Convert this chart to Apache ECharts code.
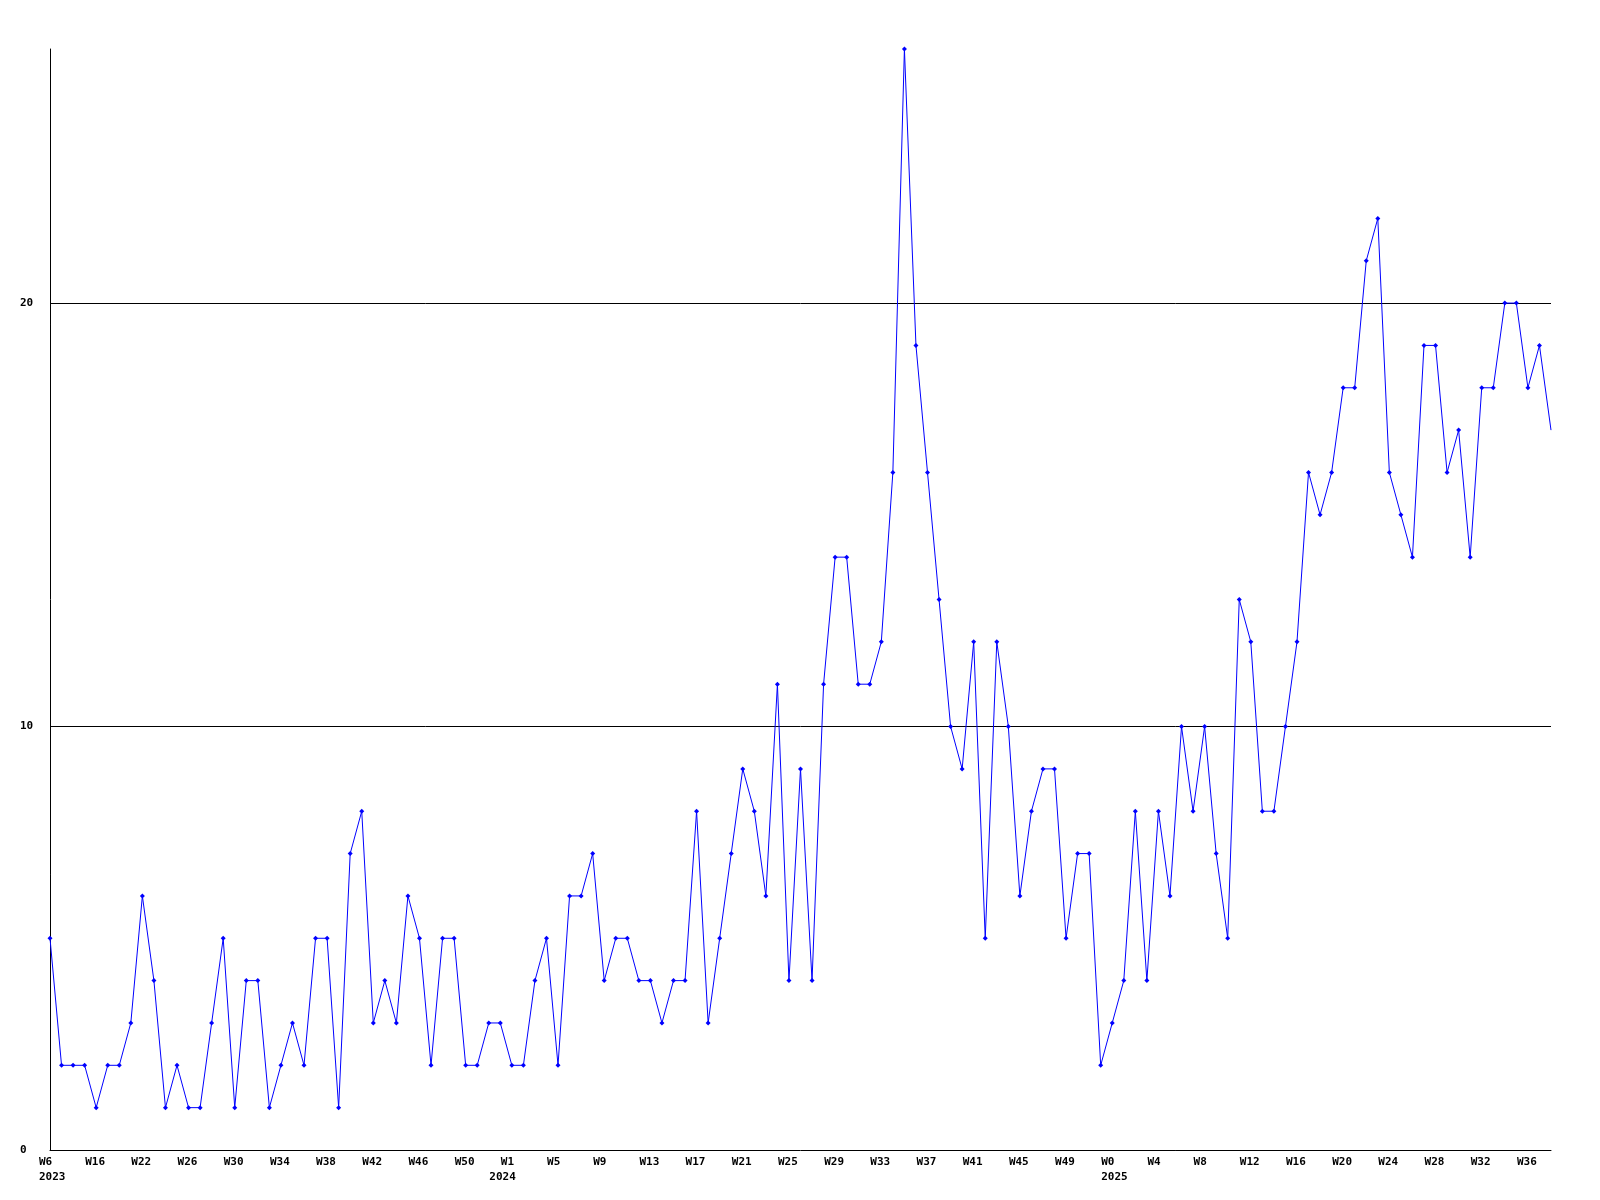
<!DOCTYPE html>
<html>
<head>
<meta charset="utf-8">
<script src="https://cdn.jsdelivr.net/npm/echarts@6/dist/echarts.min.js"></script>
<style>
html,body{margin:0;padding:0;background:#fff;}
#c{width:1600px;height:1200px;}
</style>
</head>
<body>
<div id="c"></div>
<script>
var weeks = [
"2023-W6","2023-W10","2023-W12","2023-W14","2023-W16","2023-W18","2023-W19","2023-W20",
"2023-W22","2023-W23","2023-W24","2023-W25","2023-W26","2023-W27","2023-W28","2023-W29",
"2023-W30","2023-W31","2023-W32","2023-W33","2023-W34","2023-W35","2023-W36","2023-W37",
"2023-W38","2023-W39","2023-W40","2023-W41","2023-W42","2023-W43","2023-W44","2023-W45",
"2023-W46","2023-W47","2023-W48","2023-W49","2023-W50","2023-W51","2023-W52",
"2024-W0","2024-W1","2024-W2","2024-W3","2024-W4","2024-W5","2024-W6","2024-W7","2024-W8",
"2024-W9","2024-W10","2024-W11","2024-W12","2024-W13","2024-W14","2024-W15","2024-W16",
"2024-W17","2024-W18","2024-W19","2024-W20","2024-W21","2024-W22","2024-W23","2024-W24",
"2024-W25","2024-W26","2024-W27","2024-W28","2024-W29","2024-W30","2024-W31","2024-W32",
"2024-W33","2024-W34","2024-W35","2024-W36","2024-W37","2024-W38","2024-W39","2024-W40",
"2024-W41","2024-W42","2024-W43","2024-W44","2024-W45","2024-W46","2024-W47","2024-W48",
"2024-W49","2024-W50","2024-W51","2024-W52",
"2025-W0","2025-W1","2025-W2","2025-W3","2025-W4","2025-W5","2025-W6","2025-W7",
"2025-W8","2025-W9","2025-W10","2025-W11","2025-W12","2025-W13","2025-W14","2025-W15",
"2025-W16","2025-W17","2025-W18","2025-W19","2025-W20","2025-W21","2025-W22","2025-W23",
"2025-W24","2025-W25","2025-W26","2025-W27","2025-W28","2025-W29","2025-W30","2025-W31",
"2025-W32","2025-W33","2025-W34","2025-W35","2025-W36","2025-W37","2025-W38"
];
var counts = [
5,2,2,2,1,2,2,3,6,4,
1,2,1,1,3,5,1,4,4,1,
2,3,2,5,5,1,7,8,3,4,
3,6,5,2,5,5,2,2,3,3,
2,2,4,5,2,6,6,7,4,5,
5,4,4,3,4,4,8,3,5,7,
9,8,6,11,4,9,4,11,14,14,
11,11,12,16,26,19,16,13,10,9,
12,5,12,10,6,8,9,9,5,7,
7,2,3,4,8,4,8,6,10,8,
10,7,5,13,12,8,8,10,12,16,
15,16,18,18,21,22,16,15,14,19,
19,16,17,14,18,18,20,20,18,19,
17
];
var yTicks = [0, 10, 20];
var yMax = 26;

var font = '"DejaVu Sans Mono", "Liberation Mono", monospace';
var chart = echarts.init(document.getElementById('c'), null, {renderer: 'canvas'});

var seriesData = counts.map(function (v, i) {
  if (i === counts.length - 1) return {value: v, symbol: 'none'};
  return v;
});

var labelRich = {
  a: {width: 22, align: 'left', color: '#000', fontFamily: font, fontWeight: 'bold', fontSize: 11}
};

chart.setOption({
  animation: false,
  backgroundColor: '#ffffff',
  grid: {left: 50, right: 49, top: 49, bottom: 50, containLabel: false},
  xAxis: [{
    type: 'category',
    data: weeks,
    boundaryGap: false,
    position: 'bottom',
    axisLine: {show: true, lineStyle: {color: '#000', width: 1}},
    axisTick: {show: false},
    splitLine: {show: false},
    axisLabel: {
      interval: 3,
      margin: 7,
      align: 'center',
      rich: labelRich,
      formatter: function (val) {
        return '{a|' + val.split('-')[1] + '}';
      }
    }
  }, {
    type: 'category',
    data: weeks,
    boundaryGap: false,
    position: 'bottom',
    offset: 15,
    axisLine: {show: false},
    axisTick: {show: false},
    splitLine: {show: false},
    axisLabel: {
      interval: 0,
      margin: 7,
      align: 'center',
      rich: labelRich,
      formatter: function (val, idx) {
        var y = val.split('-')[0];
        if (idx === 0 || weeks[idx - 1].split('-')[0] !== y) return '{a|' + y + '}';
        return '';
      }
    }
  }],
  yAxis: {
    type: 'value',
    min: 0,
    max: yMax,
    interval: 10,
    axisLine: {show: true, lineStyle: {color: '#000', width: 1}},
    axisTick: {show: false},
    splitLine: {show: true, showMinLine: false, showMaxLine: false, lineStyle: {color: '#000', width: 1}},
    axisLabel: {
      showMaxLabel: false,
      align: 'left',
      margin: 30,
      color: '#000',
      fontFamily: font,
      fontWeight: 'bold',
      fontSize: 11,
      formatter: function (v) { return yTicks.indexOf(v) >= 0 ? String(v) : ''; }
    }
  },
  series: [{
    type: 'line',
    xAxisIndex: 0,
    data: seriesData,
    symbol: 'diamond',
    symbolSize: 5,
    showAllSymbol: true,
    clip: true,
    lineStyle: {color: '#0000ff', width: 1},
    itemStyle: {color: '#0000ff'}
  }]
});
</script>
</body>
</html>
